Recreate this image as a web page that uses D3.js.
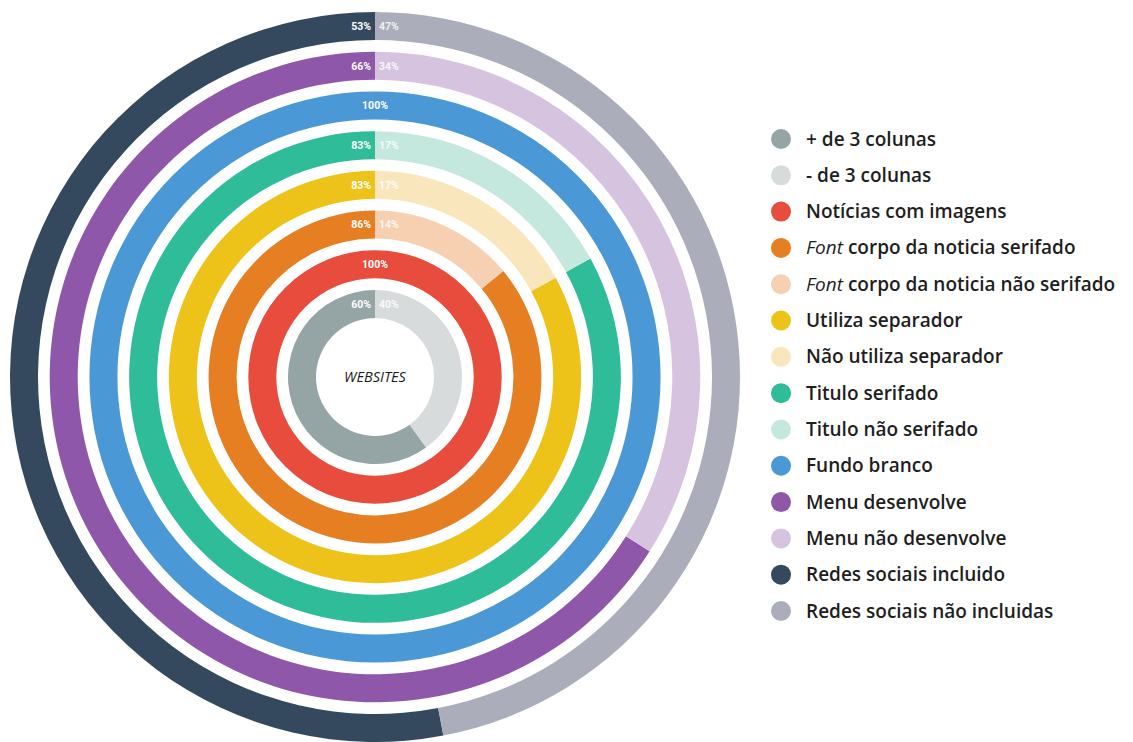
<!DOCTYPE html>
<html>
<head>
<meta charset="utf-8">
<script src="https://cdn.jsdelivr.net/npm/d3@7/dist/d3.min.js"></script>
<style>
  html, body { margin: 0; padding: 0; background: #ffffff; }
  svg { display: block; }
</style>
</head>
<body>
<svg id="chart" width="1133" height="742"></svg>
<script>
// Rings, from the centre outwards
const rings = ["Colunas", "Imagens", "Font corpo", "Separador", "Titulo", "Fundo", "Menu", "Redes sociais"];
const mainValues  = [60, 100, 86, 83, 83, 100, 66, 53];
const restValues  = [40,   0, 14, 17, 17,   0, 34, 47];
const mainColors  = ["#95a5a6", "#e74c3c", "#e67e22", "#edc31a", "#2ebd98", "#4a98d6", "#8e57aa", "#34495e"];
const restColors  = ["#d8dbdc", "#f3b8b0", "#f6d0b0", "#f9e6bd", "#c4e8dd", "#bcd8f0", "#d6c3e0", "#abaeba"];

// Legend entries (italic prefix kept apart from the rest of the label)
const legendItalic = ["", "", "", "Font", "Font", "", "", "", "", "", "", "", "", ""];
const legendText = [
  "+ de 3 colunas",
  "- de 3 colunas",
  "Notícias com imagens",
  " corpo da noticia serifado",
  " corpo da noticia não serifado",
  "Utiliza separador",
  "Não utiliza separador",
  "Titulo serifado",
  "Titulo não serifado",
  "Fundo branco",
  "Menu desenvolve",
  "Menu não desenvolve",
  "Redes sociais incluido",
  "Redes sociais não incluidas"
];
const legendColors = [
  "#95a5a6", "#d8dbdc", "#e74c3c", "#e67e22", "#f6d0b0", "#edc31a", "#f9e6bd",
  "#2ebd98", "#c4e8dd", "#4a98d6", "#8e57aa", "#d6c3e0", "#34495e", "#abaeba"
];

const centerLabel = "WEBSITES";

const svg = d3.select("#chart");
const cx = 375, cy = 377;
const ringWidth = 28;

const angle = d3.scaleLinear().domain([0, 100]).range([0, 2 * Math.PI]);
const outerR = d3.scaleLinear().domain([0, rings.length - 1]).range([87, 365]);

const arc = d3.arc();
const g = svg.append("g").attr("transform", `translate(${cx},${cy})`);

rings.forEach((name, i) => {
  const ro = outerR(i), ri = ro - ringWidth;
  const main = mainValues[i], rest = restValues[i];
  const ring = g.append("g").attr("class", "ring").attr("data-name", name);

  // main share runs anticlockwise from 12 o'clock, the rest clockwise
  ring.append("path")
    .attr("d", arc({ innerRadius: ri, outerRadius: ro, startAngle: -angle(main), endAngle: 0 }))
    .attr("fill", mainColors[i]);
  if (rest > 0) {
    ring.append("path")
      .attr("d", arc({ innerRadius: ri, outerRadius: ro, startAngle: 0, endAngle: angle(rest) }))
      .attr("fill", restColors[i]);
  }

  const ly = -(ro - ringWidth / 2) + 3.8;
  const lab = ring.append("g")
    .attr("font-family", "Roboto, 'Open Sans', sans-serif")
    .attr("font-weight", 700)
    .attr("font-size", 10.5)
    .attr("fill", "#ffffff");
  if (rest > 0) {
    lab.append("text").attr("x", -4).attr("y", ly).attr("text-anchor", "end").text(main + "%");
    lab.append("text").attr("x", 4).attr("y", ly).attr("text-anchor", "start")
      .attr("fill-opacity", 0.85).text(rest + "%");
  } else {
    lab.append("text").attr("x", 0).attr("y", ly).attr("text-anchor", "middle").text(main + "%");
  }
});

g.append("text")
  .attr("x", 0).attr("y", 5)
  .attr("text-anchor", "middle")
  .attr("font-family", "'Open Sans', sans-serif")
  .attr("font-style", "italic")
  .attr("font-size", 14.5)
  .attr("fill", "#1a1a1a")
  .text(centerLabel);

// Legend
const legendY = d3.scaleLinear().domain([0, legendText.length - 1]).range([139, 611]);
const legend = svg.append("g")
  .attr("font-family", "'Open Sans', sans-serif")
  .attr("font-weight", 600)
  .attr("font-size", 19)
  .attr("fill", "#1e1e1e");

legendText.forEach((t, i) => {
  const y = legendY(i);
  legend.append("circle").attr("cx", 781).attr("cy", y).attr("r", 10).attr("fill", legendColors[i]);
  const txt = legend.append("text").attr("x", 806).attr("y", y + 6.5);
  if (legendItalic[i]) {
    txt.append("tspan").attr("font-style", "italic").attr("font-weight", 400).text(legendItalic[i]);
  }
  txt.append("tspan").text(t);
});
</script>
</body>
</html>
